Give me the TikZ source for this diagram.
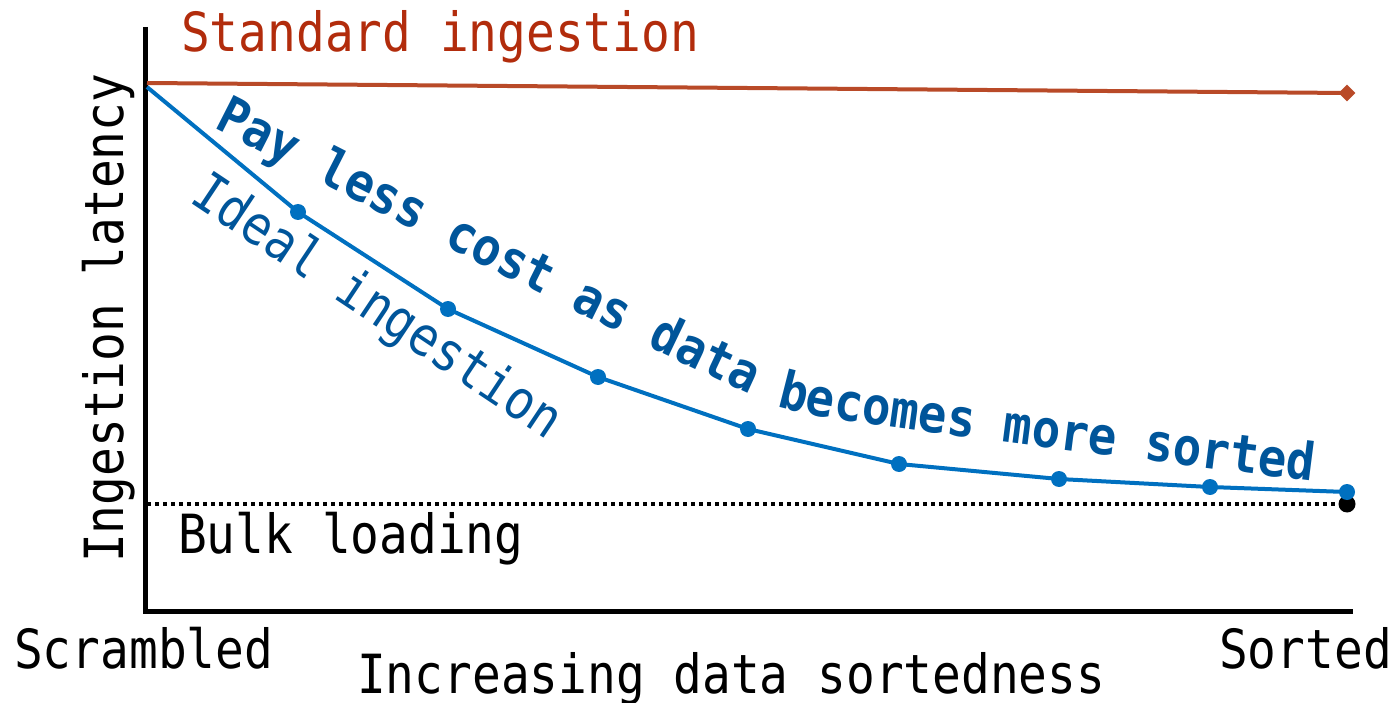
\documentclass[tikz,border=0pt]{standalone}
\usepackage{fontspec}
\usetikzlibrary{shapes.geometric,decorations.text}
\newfontfamily\labelfont[FakeStretch=0.885]{DejaVu Sans Mono}
\newfontfamily\curvefont[FakeStretch=0.912]{DejaVu Sans Mono Bold}
\definecolor{stdline}{HTML}{B94A28}
\definecolor{stdtext}{HTML}{B22C0C}
\definecolor{curveblue}{HTML}{0070C0}
\definecolor{labelblue}{HTML}{00559A}
\tikzset{
  lbl/.style={inner sep=0pt, font=\labelfont\fontsize{54}{60}\selectfont},
  axisline/.style={line width=5pt, line join=miter},
  idealline/.style={curveblue, line width=4pt, line join=round},
  idealdot/.style={circle, fill=curveblue, inner sep=0pt, minimum size=16pt},
  stdmark/.style={diamond, fill=stdline, inner sep=0pt, minimum size=17pt},
  bulkline/.style={line width=4pt, dash pattern=on 4pt off 4pt},
  bulkdot/.style={circle, fill=black, inner sep=0pt, minimum size=17pt}
}
\begin{document}
\begin{tikzpicture}[x=1pt, y=-1pt]
\useasboundingbox (0,0) rectangle (1397,703);

% axes
\coordinate (ytop) at (145.5,27);
\coordinate (origin) at (145.5,611);
\coordinate (xend) at (1353,611);
\draw[axisline] (ytop) -- (origin) -- (xend);

% bulk loading baseline
\coordinate (bulk0) at (147,504);
\node[bulkdot] (bulk1) at (1347,504) {};
\draw[bulkline] (bulk0) -- (bulk1.center);

% standard ingestion
\coordinate (std0) at (147,83);
\node[stdmark] (std1) at (1347,93) {};
\draw[stdline, line width=4pt] (std0) -- (std1.center);

% ideal ingestion curve
\coordinate (c0) at (147,87);
\foreach \n/\x/\y in {1/298/212, 2/448/309, 3/598/377, 4/748/429,
                      5/899/464, 6/1059/479, 7/1210/487, 8/1347/492}
  \coordinate (c\n) at (\x,\y);
\draw[idealline] (c0) -- (c1) -- (c2) -- (c3) -- (c4) -- (c5) -- (c6) -- (c7) -- (c8);
\foreach \n in {1,...,8}
  \node[idealdot] (d\n) at (c\n) {};

% labels
\node[lbl, text=stdtext, anchor=base west] (stdlabel) at (181,52) {Standard ingestion};
\node[lbl, anchor=base west] (bulklabel) at (178,553) {Bulk loading};
\node[lbl, anchor=base west] (scrambled) at (14,668) {Scrambled};
\node[lbl, anchor=base east] (sorted) at (1392,668) {Sorted};
\node[lbl, anchor=base west] (xlabel) at (357,693) {Increasing data sortedness};
\node[lbl, anchor=base west, rotate=90] (ylabel) at (123,563) {Ingestion latency};
\node[lbl, text=labelblue, anchor=base, rotate=-33.7] (ideallabel) at (368,321) {Ideal ingestion};

% curved annotation
\path[decorate, decoration={text along path,
  text={|\curvefont\fontsize{52}{54}\selectfont\color{labelblue}|Pay less cost as data becomes more sorted},
  text align=left}]
  plot[smooth, tension=0.5] coordinates {(213,128) (453,250) (620,333) (753,396)
    (800,412) (870,424) (1003,442) (1380,490)};
\end{tikzpicture}
\end{document}
